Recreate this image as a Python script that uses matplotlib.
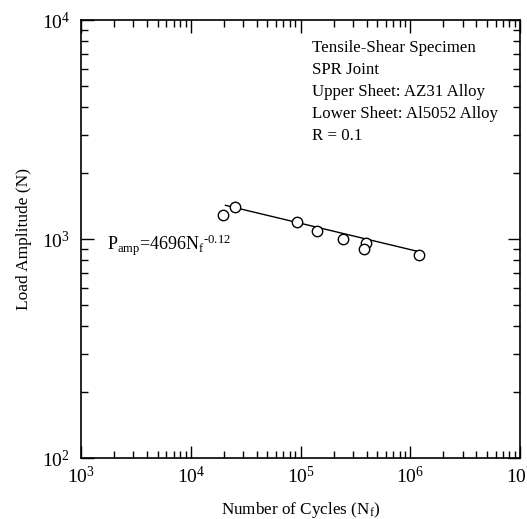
import matplotlib
matplotlib.use('Agg')
import matplotlib.pyplot as plt
import numpy as np

plt.rcParams['font.family'] = 'Liberation Serif'
plt.rcParams['mathtext.fontset'] = 'custom'
plt.rcParams['mathtext.rm'] = 'Liberation Serif'
plt.rcParams['mathtext.it'] = 'Liberation Serif:italic'

# fatigue test data, tensile-shear SPR joint AZ31/Al5052
cycles = [19500, 25300, 93600, 140000, 243000, 393000, 381000, 1200000]
load = [1290, 1395, 1191, 1091, 1000, 955, 898, 845]

# power-law fit P = A * N^b
A = 4696
b = -0.12
fit_n = [20700, 1250000]

info = ['Tensile-Shear Specimen', 'SPR Joint', 'Upper Sheet: AZ31 Alloy',
        'Lower Sheet: Al5052 Alloy', 'R = 0.1']

fig = plt.figure(figsize=(5.27, 5.19), dpi=100)
ax = fig.add_axes([81 / 527, 61 / 519, 439 / 527, 438 / 519])

fn = np.array(fit_n, dtype=float)
ax.plot(fn, A * fn ** b, color='black', lw=1.0)
ax.plot(cycles, load, 'o', mfc='white', mec='black', ms=7.5, mew=1.0)

ax.set_xscale('log')
ax.set_yscale('log')
ax.set_xlim(1e3, 1e7)
ax.set_ylim(1e2, 1e4)

ax.tick_params(which='both', direction='in', top=True, right=True, labelsize=14)
ax.tick_params(which='major', length=9, width=1)
ax.tick_params(axis='x', which='major', pad=6)
ax.tick_params(axis='y', which='major', pad=8)
ax.tick_params(which='minor', length=5, width=1)
for s in ax.spines.values():
    s.set_linewidth(1.2)

ax.set_xlabel('Number of Cycles (N$_{\\rm f}$)', fontsize=12.3, labelpad=9)
ax.set_ylabel('Load Amplitude (N)', fontsize=12.5, labelpad=7)

ax.text(0.527, 0.955, '\n'.join(info), transform=ax.transAxes, fontsize=12.2,
        va='top', ha='left', linespacing=1.5)
ax.text(0.06, 0.485, 'P$_{\\rm amp}$=4696N$_{\\rm f}$$^{\\text{-0.12}}$',
        transform=ax.transAxes, fontsize=13, va='center', ha='left')

fig.savefig('out.png', dpi=100)
